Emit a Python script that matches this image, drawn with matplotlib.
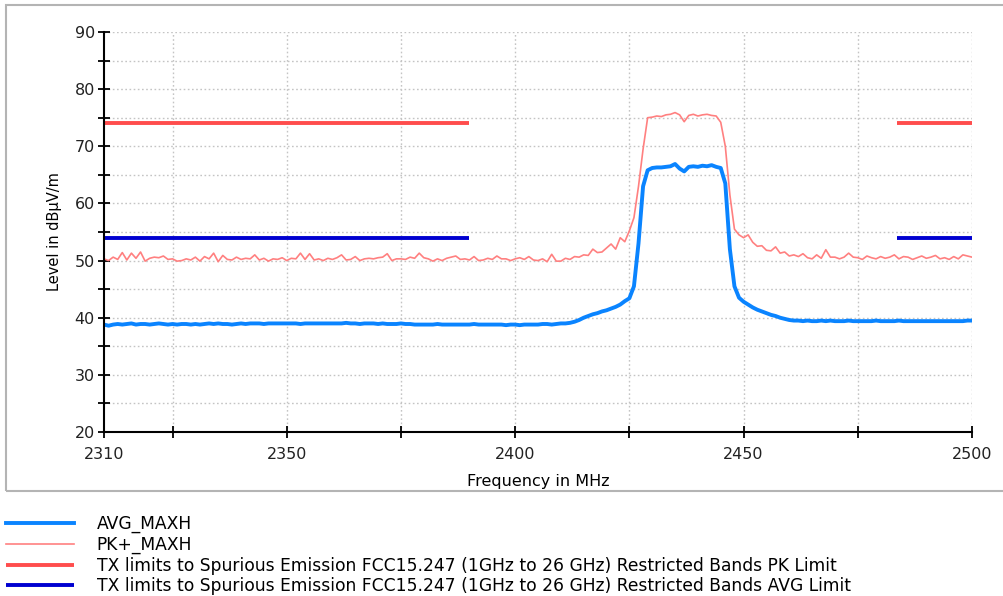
import numpy as np
import matplotlib
matplotlib.use("Agg")
import matplotlib.pyplot as plt
from matplotlib.patches import Rectangle

# ---------------- data ----------------
freq_start, freq_stop = 2310, 2500
freq = np.arange(freq_start, freq_stop + 1, 1)

pk_maxh = [
    50.3, 50.0, 50.6, 50.2, 51.4, 50.1, 51.3, 50.4, 51.5, 49.9,
    50.4, 50.6, 50.5, 50.8, 50.2, 50.3, 49.9, 50.0, 50.3, 50.1,
    50.6, 49.9, 50.7, 50.3, 51.3, 49.8, 50.9, 50.2, 50.1, 50.6,
    50.2, 50.4, 50.3, 51.0, 50.1, 50.4, 49.9, 50.3, 50.2, 50.5,
    50.0, 50.4, 50.3, 51.3, 50.2, 51.2, 50.1, 50.3, 50.0, 50.4,
    50.2, 50.5, 51.0, 50.1, 50.2, 50.7, 50.0, 50.3, 50.4, 50.3,
    50.5, 50.6, 51.2, 50.0, 50.3, 50.3, 50.2, 50.6, 50.4, 51.3,
    50.5, 50.3, 49.9, 50.3, 50.0, 50.4, 50.6, 50.8, 50.2, 50.3,
    50.1, 50.7, 50.0, 50.1, 50.4, 50.2, 50.8, 50.3, 50.3, 50.0,
    50.3, 50.5, 50.2, 50.7, 50.1, 50.0, 50.3, 49.8, 51.1, 49.9,
    49.9, 50.4, 50.2, 50.7, 50.6, 51.0, 50.9, 52.0, 51.4, 51.5,
    52.2, 52.9, 52.0, 54.0, 53.3, 55.2, 57.5, 63.0, 69.5, 75.0,
    75.1, 75.3, 75.2, 75.5, 75.6, 75.9, 75.5, 74.3, 75.4, 75.6,
    75.3, 75.5, 75.6, 75.4, 75.3, 74.2, 70.0, 61.5, 55.5, 54.5,
    54.0, 54.5, 53.2, 52.5, 52.6, 51.8, 51.7, 52.4, 51.3, 51.5,
    50.8, 51.0, 50.7, 51.2, 50.5, 50.3, 51.0, 50.4, 51.9, 50.6,
    50.6, 50.3, 50.6, 51.3, 50.6, 50.5, 50.2, 50.8, 50.5, 50.3,
    50.7, 50.4, 50.6, 51.0, 50.3, 50.7, 50.6, 50.2, 50.5, 50.8,
    50.4, 50.6, 50.9, 50.3, 50.5, 50.2, 50.7, 50.3, 51.0, 50.8,
    50.6,
]

avg_maxh = [
    38.8, 38.6, 38.8, 38.9, 38.8, 38.9, 39.0, 38.8, 38.9, 38.9,
    38.8, 38.9, 39.0, 38.9, 38.8, 38.9, 38.8, 38.9, 38.9, 38.8,
    38.9, 38.8, 38.9, 39.0, 38.9, 39.0, 38.9, 38.9, 38.8, 38.9,
    39.0, 38.9, 39.0, 39.0, 39.0, 38.9, 39.0, 39.0, 39.0, 39.0,
    39.0, 39.0, 39.0, 38.9, 39.0, 39.0, 39.0, 39.0, 39.0, 39.0,
    39.0, 39.0, 39.0, 39.1, 39.0, 39.0, 38.9, 39.0, 39.0, 39.0,
    38.9, 39.0, 38.9, 38.9, 38.9, 39.0, 38.9, 38.9, 38.8, 38.8,
    38.8, 38.8, 38.8, 38.9, 38.8, 38.8, 38.8, 38.8, 38.8, 38.8,
    38.8, 38.9, 38.8, 38.8, 38.8, 38.8, 38.8, 38.8, 38.7, 38.8,
    38.8, 38.7, 38.8, 38.8, 38.8, 38.8, 38.9, 38.9, 38.8, 38.9,
    39.0, 39.0, 39.1, 39.3, 39.6, 40.0, 40.3, 40.6, 40.8, 41.1,
    41.3, 41.6, 41.9, 42.3, 42.9, 43.4, 45.5, 53.0, 63.0, 65.8,
    66.2, 66.3, 66.3, 66.4, 66.5, 66.9, 66.1, 65.6, 66.4, 66.5,
    66.4, 66.6, 66.5, 66.7, 66.4, 66.2, 63.5, 52.0, 45.5, 43.5,
    42.8, 42.3, 41.8, 41.4, 41.1, 40.8, 40.5, 40.3, 40.0, 39.8,
    39.6, 39.5, 39.5, 39.4, 39.5, 39.4, 39.4, 39.5, 39.4, 39.5,
    39.4, 39.4, 39.4, 39.5, 39.4, 39.4, 39.4, 39.4, 39.4, 39.5,
    39.4, 39.4, 39.4, 39.4, 39.5, 39.4, 39.4, 39.4, 39.4, 39.4,
    39.4, 39.4, 39.4, 39.4, 39.4, 39.4, 39.4, 39.4, 39.4, 39.5,
    39.5,
]

# limit lines (restricted bands)
limit_segments = [(2310, 2390), (2483.5, 2500)]
pk_limit = 74.0
avg_limit = 54.0

x_ticks = [2310, 2325, 2350, 2375, 2400, 2425, 2450, 2475, 2500]
x_labels = ["2310", "", "2350", "", "2400", "", "2450", "", "2500"]
y_ticks = list(range(20, 91, 5))
y_labels = [str(v) if v % 10 == 0 else "" for v in y_ticks]

labels = [
    "AVG_MAXH",
    "PK+_MAXH",
    "TX limits to Spurious Emission FCC15.247 (1GHz to 26 GHz) Restricted Bands PK Limit",
    "TX limits to Spurious Emission FCC15.247 (1GHz to 26 GHz) Restricted Bands AVG Limit",
]

# ---------------- figure ----------------
W, H = 1004, 596
fig = plt.figure(figsize=(W / 100, H / 100), dpi=100)
fig.patch.set_facecolor("white")

# outer frame
fig.patches.append(Rectangle((6 / W, 1 - 491 / H), 1.2, (491 - 5) / H,
                             transform=fig.transFigure, fill=False,
                             edgecolor="#b4b4b4", lw=1.5, zorder=0))

ax = fig.add_axes([104 / W, 1 - 432 / H, (972 - 104) / W, (432 - 32) / H])
ax.set_xlim(freq_start, freq_stop)
ax.set_ylim(20, 90)

c_avg = "#0a84ff"
c_pk = "#ff8080"
c_pklim = "#ff4d4d"
c_avglim = "#0000d0"

l_avg, = ax.plot(freq, avg_maxh, color=c_avg, lw=2.8, zorder=4, solid_joinstyle="round")
l_pk, = ax.plot(freq, pk_maxh, color=c_pk, lw=1.2, zorder=3)
for i, (a, b) in enumerate(limit_segments):
    lp, = ax.plot([a, b], [pk_limit, pk_limit], color=c_pklim, lw=2.8, zorder=2,
                  solid_capstyle="butt")
    la, = ax.plot([a, b], [avg_limit, avg_limit], color=c_avglim, lw=2.8, zorder=2,
                  solid_capstyle="butt")

ax.set_xticks(x_ticks)
ax.set_xticklabels(x_labels)
ax.set_yticks(y_ticks)
ax.set_yticklabels(y_labels)

grid_kw = dict(color="#c4c4c4", lw=1.0, ls=(0, (1.2, 1.8)), zorder=0)
for v in x_ticks[1:]:
    ax.axvline(v, **grid_kw)
for v in y_ticks[1:]:
    ax.axhline(v, **grid_kw)

for s in ["top", "right"]:
    ax.spines[s].set_visible(False)
for s in ["left", "bottom"]:
    ax.spines[s].set_color("black")
    ax.spines[s].set_linewidth(1.5)
    ax.spines[s].set_zorder(5)

ax.tick_params(axis="both", direction="inout", length=9, width=1.3, colors="black",
               labelsize=11.5, labelcolor="#222222")
ax.tick_params(axis="y", pad=2)
ax.tick_params(axis="x", pad=6)

ax.set_ylabel("Level in dBµV/m", fontsize=10.5, labelpad=9)
ax.set_xlabel("Frequency in MHz", fontsize=11.5, labelpad=9)

fig.legend([l_avg, l_pk, lp, la], labels, loc="upper left",
           bbox_to_anchor=(6 / W, 1 - 515 / H), frameon=False,
           fontsize=12.3, handlelength=4.0, handletextpad=1.3,
           labelspacing=0.15, borderpad=0, borderaxespad=0)

fig.savefig("out.png", dpi=100, facecolor="white")
